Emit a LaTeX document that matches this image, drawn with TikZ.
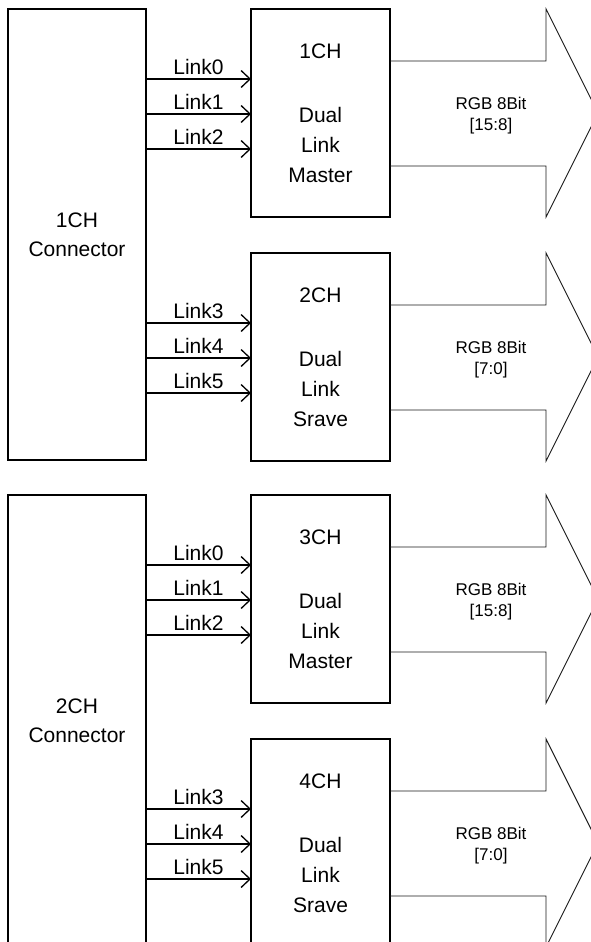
\documentclass[tikz,border=0pt]{standalone}
\usepackage{fontspec}
\setmainfont{Liberation Sans}
\usetikzlibrary{arrows.meta,positioning,calc}

\begin{document}
\begin{tikzpicture}[x=1pt,y=-1pt,
  conn/.style={rectangle,draw,line width=1.6pt,outer sep=0pt,inner sep=0pt,
               minimum width=138pt,minimum height=451pt,align=center,
               font=\fontsize{21}{29}\selectfont},
  chbox/.style={rectangle,draw,line width=1.6pt,outer sep=0pt,inner sep=0pt,
               minimum width=139pt,minimum height=208pt,align=center,
               font=\fontsize{21}{30}\selectfont},
  link/.style={-{Straight Barb[length=9pt,width=17pt]},line width=1.3pt},
  lbl/.style={font=\fontsize{21}{24}\selectfont,above,inner sep=4pt},
  outarr/.style={draw=black!90,line width=0.9pt,line join=miter},
  rgb/.style={font=\fontsize{17}{21}\selectfont,align=center}
]
\useasboundingbox (0,0) rectangle (591,942);
\clip (0,0) rectangle (591,942);

% Connectors
\node[conn,anchor=north west] (conn1) at (8,9) {1CH\\Connector};
\node[conn,below=35pt of conn1] (conn2) {2CH\\Connector};

% Channels
\node[chbox,right=105pt of conn1.north east,anchor=north west] (ch1) {1CH\\[34pt]Dual\\Link\\Master};
\node[chbox,below=36pt of ch1] (ch2) {2CH\\[34pt]Dual\\Link\\Srave};
\node[chbox,right=105pt of conn2.north east,anchor=north west] (ch3) {3CH\\[34pt]Dual\\Link\\Master};
\node[chbox,below=36pt of ch3] (ch4) {4CH\\[34pt]Dual\\Link\\Srave};

% Links
\foreach \blk/\src/\first in {ch1/conn1/0,ch2/conn1/3,ch3/conn2/0,ch4/conn2/3}{
  \foreach \i in {0,1,2}{
    \pgfmathtruncatemacro{\k}{\first+\i}
    \coordinate (\blk in\i) at ($(\blk.north west)+(0,70+35*\i)$);
    \draw[link] (\src.east |- \blk in\i) -- node[lbl]{Link\k} (\blk in\i);
  }
}

% RGB outputs
\foreach \blk/\bits in {ch1/{[15:8]},ch2/{[7:0]},ch3/{[15:8]},ch4/{[7:0]}}{
  \draw[outarr] ($(\blk.north east)+(0,52)$) -| ($(\blk.north east)+(156,0)$)
    -- ($(\blk.east)+(208,0)$) -- ($(\blk.south east)+(156,0)$)
    |- ($(\blk.north east)+(0,157)$);
  \node[rgb] (\blk rgb) at ($(\blk.east)+(101,3)$) {RGB 8Bit\\{\bits}};
}
\end{tikzpicture}
\end{document}
